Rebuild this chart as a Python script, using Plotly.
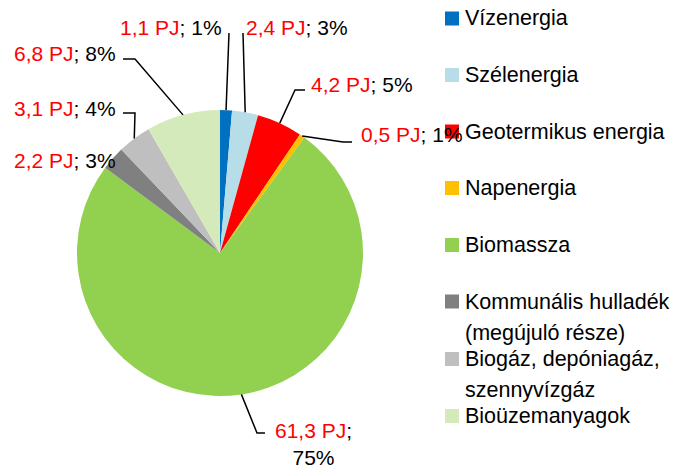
import math
import plotly.graph_objects as go

# ---- data ----
categories = ["Vízenergia", "Szélenergia", "Geotermikus energia", "Napenergia",
              "Biomassza", "Kommunális hulladék<br>(megújuló része)",
              "Biogáz, depóniagáz,<br>szennyvízgáz", "Bioüzemanyagok"]
values_pj = [1.1, 2.4, 4.2, 0.5, 61.3, 2.2, 3.1, 6.8]
colors = ["#0070C0", "#B7DEE8", "#FF0000", "#FFC000", "#92D050",
          "#808080", "#BFBFBF", "#D4EABA"]

# ---- layout (pixels) ----
W, H = 677, 468
CX, CY, R = 220, 253, 143
FONT = "Arial, Liberation Sans, sans-serif"

# label text anchor (x, y, xanchor) and leader-line points before the slice edge
label_layout = [
    dict(x=223, y=27, xa="right", pts=[(229, 33)]),
    dict(x=245, y=27, xa="left", pts=[(243, 33)]),
    dict(x=310, y=84, xa="left", pts=[(305, 90), (295, 90)]),
    dict(x=360, y=134, xa="left", pts=[(352, 142), (343, 142)]),
    dict(x=313, y=444, xa="center", pts=[(265, 433), (257, 433)], br=True),
    dict(x=117, y=160, xa="right", pts=[]),
    dict(x=117, y=108, xa="right", pts=[(123, 113), (135, 113)]),
    dict(x=117, y=53, xa="right", pts=[(123, 59), (135, 59)]),
]
legend_x_marker, legend_x_text, legend_marker = 445, 464, 14
legend_y = [18.5, 75, 131.5, 188, 245, 301.5, 359, 416]
legend_line_gap = 31


def px(x):
    return x / W


def py(y):
    return 1 - y / H


fig = go.Figure(go.Pie(
    labels=categories, values=values_pj, sort=False, direction="clockwise",
    rotation=0, marker=dict(colors=colors, line=dict(width=0)),
    textinfo="none", hoverinfo="label+value", showlegend=False,
    domain=dict(x=[px(CX - R), px(CX + R)], y=[py(CY + R), py(CY - R)]),
))

total = sum(values_pj)
shapes, annotations = [], []
cum = 0.0
for i, v in enumerate(values_pj):
    mid = (cum + v / 2) / total
    cum += v
    ang = 2 * math.pi * mid
    ex, ey = CX + R * math.sin(ang), CY - R * math.cos(ang)
    lay = label_layout[i]
    pct = round(100 * v / total)
    pj = f"{v:.1f}".replace(".", ",") + " PJ"
    sep = ";<br>" if lay.get("br") else "; "
    text = f"<span style='color:#FF0000'>{pj}</span>{sep}{pct}%"
    annotations.append(dict(
        x=px(lay["x"]), y=py(lay["y"]), xref="paper", yref="paper",
        text=text, showarrow=False, xanchor=lay["xa"], yanchor="middle",
        align="center", borderpad=0,
        font=dict(family=FONT, size=21, color="#000000"),
    ))
    if lay["pts"]:
        pts = lay["pts"] + [(ex, ey)]
        path = "M " + " L ".join(f"{px(a):.5f},{py(b):.5f}" for a, b in pts)
        shapes.append(dict(type="path", path=path, xref="paper", yref="paper",
                           line=dict(color="#000000", width=1.5)))

# legend drawn manually
for i, name in enumerate(categories):
    yc = legend_y[i]
    h = legend_marker / 2
    shapes.append(dict(type="rect", xref="paper", yref="paper",
                       x0=px(legend_x_marker), x1=px(legend_x_marker + legend_marker),
                       y0=py(yc + h), y1=py(yc - h),
                       fillcolor=colors[i], line=dict(width=0)))
    for j, line in enumerate(name.split("<br>")):
        annotations.append(dict(
            x=px(legend_x_text), y=py(yc + j * legend_line_gap),
            xref="paper", yref="paper", text=line, showarrow=False,
            xanchor="left", yanchor="middle", borderpad=0,
            font=dict(family=FONT, size=21.5, color="#000000"),
        ))

fig.update_layout(
    width=W, height=H, margin=dict(l=0, r=0, t=0, b=0),
    paper_bgcolor="white", plot_bgcolor="white",
    shapes=shapes, annotations=annotations, showlegend=False,
)
fig.write_html("out.html", config={"displayModeBar": False},
               post_script="document.body.style.margin='0px';"
                           "document.body.style.overflow='hidden';")
